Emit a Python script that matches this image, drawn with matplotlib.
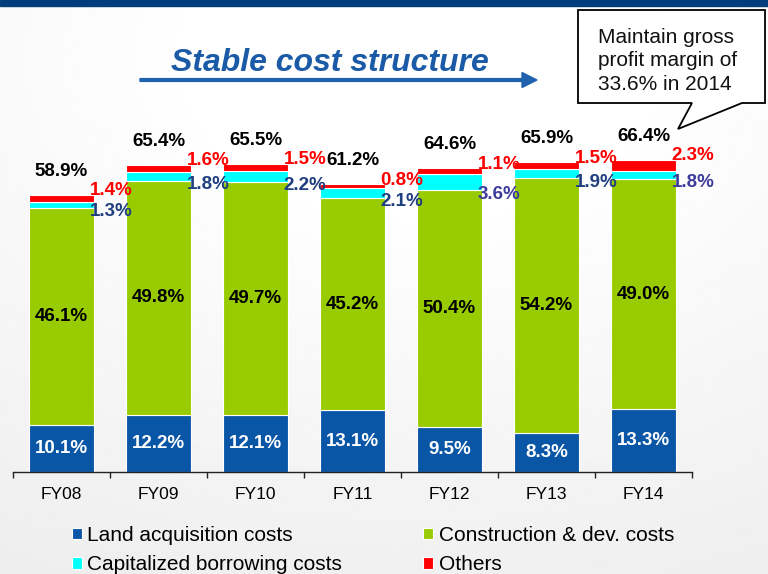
import numpy as np
import matplotlib
matplotlib.use('Agg')
import matplotlib.pyplot as plt
from matplotlib.patches import Rectangle, Polygon, FancyArrow

W, H = 768, 574

years = ['FY08', 'FY09', 'FY10', 'FY11', 'FY12', 'FY13', 'FY14']
land = [10.1, 12.2, 12.1, 13.1, 9.5, 8.3, 13.3]
construction = [46.1, 49.8, 49.7, 45.2, 50.4, 54.2, 49.0]
borrowing = [1.3, 1.8, 2.2, 2.1, 3.6, 1.9, 1.8]
others = [1.4, 1.6, 1.5, 0.8, 1.1, 1.5, 2.3]
totals = [58.9, 65.4, 65.5, 61.2, 64.6, 65.9, 66.4]
series_names = ['Land acquisition costs', 'Construction & dev. costs',
                'Capitalized borrowing costs', 'Others']
callout_text = 'Maintain gross\nprofit margin of\n33.6% in 2014'

c_land = '#0a56a6'
c_cons = '#99cc00'
c_borr = '#00ffff'
c_oth = '#ff0000'
borr_label_colors = ['#1f3f7f', '#1f3f7f', '#1f3f7f', '#1f3f7f',
                     '#3c3c9a', '#1f3f7f', '#3c3c9a']

plt.rcParams['font.family'] = ['Liberation Sans', 'DejaVu Sans']


def px(x, y):
    # pixel position (from top left) -> figure fraction
    return (x / W, 1 - y / H)


fig = plt.figure(figsize=(W / 100, H / 100), dpi=100)

# soft grey background, lighter near the top
bg = fig.add_axes([0, 0, 1, 1], zorder=-5)
gy, gx = np.mgrid[0:1:200j, 0:1:200j]
shade = 1.0 - 0.09 * np.clip(np.sqrt((gx - 0.55) ** 2 * 0.8 + (gy - 0.1) ** 2) - 0.25, 0, 1)
bg.imshow(shade, cmap='gray', vmin=0, vmax=1, aspect='auto', extent=[0, 1, 0, 1])
bg.axis('off')

# dark band on top
fig.patches.append(Rectangle(px(0, 6), 1, 6 / H, transform=fig.transFigure,
                             color='#003d7a', zorder=5))

l, r = 13, 692
base, top = 472, 120
ax = fig.add_axes([l / W, 1 - base / H, (r - l) / W, (base - top) / H])
ax.set_facecolor('none')

x = np.arange(len(years))
bw = 0.66
b1 = np.array(land)
b2 = b1 + np.array(construction)
b3 = b2 + np.array(borrowing)
ekw = dict(edgecolor='white', linewidth=0.8)
h_land = ax.bar(x, land, bw, color=c_land, **ekw)
h_cons = ax.bar(x, construction, bw, bottom=b1, color=c_cons, **ekw)
h_borr = ax.bar(x, borrowing, bw, bottom=b2, color=c_borr, **ekw)
h_oth = ax.bar(x, others, bw, bottom=b3, color=c_oth, **ekw)

fs = 13.5
for i in range(len(years)):
    ax.text(x[i], land[i] / 2, f'{land[i]:.1f}%', ha='center', va='center',
            color='white', fontsize=fs, fontweight='bold')
    ax.text(x[i], b1[i] + construction[i] / 2, f'{construction[i]:.1f}%',
            ha='center', va='center', color='black', fontsize=fs, fontweight='bold')
    ax.text(x[i] + bw / 2 - 0.04, b2[i] - 0.8, f'{borrowing[i]:.1f}%',
            ha='left', va='center', color=borr_label_colors[i], fontsize=fs,
            fontweight='bold')
    ax.text(x[i] + bw / 2 - 0.04, totals[i] + 0.9, f'{others[i]:.1f}%',
            ha='left', va='center', color=c_oth, fontsize=fs, fontweight='bold')
    ax.text(x[i], totals[i] + 5.0, f'{totals[i]:.1f}%', ha='center', va='center',
            color='black', fontsize=fs, fontweight='bold')

ax.set_xlim(-0.5, len(years) - 0.5)
ax.set_ylim(0, (base - top) / 4.7)
for s in ['top', 'right', 'left']:
    ax.spines[s].set_visible(False)
ax.spines['bottom'].set_color('#222222')
ax.spines['bottom'].set_linewidth(1.0)
ax.set_yticks([])
ax.set_xticks(x)
ax.set_xticklabels(years, fontsize=12.5)
ax.set_xticks(np.arange(-0.5, len(years)), minor=True)
ax.tick_params(axis='x', which='major', length=0, pad=11)
ax.tick_params(axis='x', which='minor', length=4.5, width=1.0, direction='out',
               color='#222222')

# title with arrow
fig.text(*px(330, 63), 'Stable cost structure', ha='center', va='center',
         fontsize=23, fontweight='bold', style='italic', color='#1a5aa6')
ax0, ay0 = px(140, 80)
ax1, _ = px(537, 80)
fig.patches.append(FancyArrow(ax0, ay0, ax1 - ax0, 0, width=2.8 / H,
                              head_width=15 / H, head_length=15 / W,
                              length_includes_head=True, color='#1f62ad',
                              transform=fig.transFigure))

# callout box
pts = [px(578, 10), px(765, 10), px(765, 103), px(742, 103), px(678, 129),
       px(692, 103), px(578, 103)]
fig.patches.append(Polygon(pts, closed=True, facecolor='white', edgecolor='black',
                           linewidth=1.3, transform=fig.transFigure, zorder=4))
fig.text(*px(598, 61), callout_text, ha='left', va='center', fontsize=15,
         linespacing=1.32, color='#111111', zorder=6)

# legend
handles = [h_land, h_borr, h_cons, h_oth]
names = [series_names[0], series_names[2], series_names[1], series_names[3]]
fig.legend(handles, names, loc='upper left', bbox_to_anchor=px(72, 526),
           ncol=2, frameon=False, fontsize=15, borderpad=0, borderaxespad=0,
           handlelength=0.48, handleheight=0.48, handletextpad=0.25,
           columnspacing=3.9, labelspacing=0.5)

fig.savefig('out.png', dpi=100)
